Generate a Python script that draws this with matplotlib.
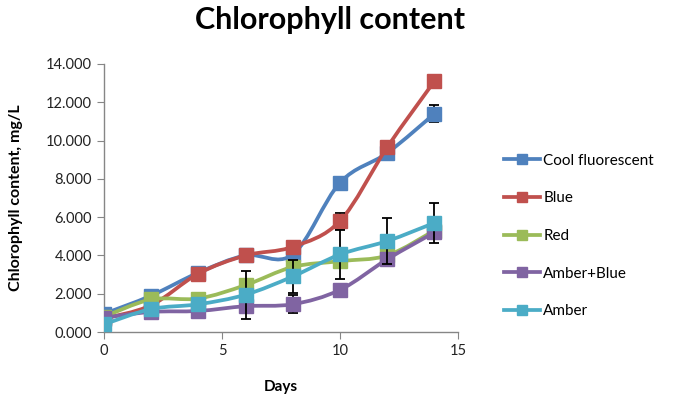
import matplotlib
matplotlib.use("Agg")
import matplotlib.pyplot as plt
from matplotlib.path import Path
from matplotlib.patches import PathPatch
from matplotlib.lines import Line2D

# data
days = [0, 2, 4, 6, 8, 10, 12, 14]
cool_fluorescent = [0.95, 1.9, 3.1, 4.0, 4.05, 7.8, 9.35, 11.4]
blue = [0.7, 1.4, 3.05, 4.0, 4.45, 5.8, 9.65, 13.1]
red = [0.8, 1.7, 1.75, 2.45, 3.4, 3.7, 4.0, 5.3]
amber_blue = [0.75, 1.05, 1.1, 1.35, 1.45, 2.2, 3.8, 5.2]
amber = [0.4, 1.2, 1.45, 1.95, 2.9, 4.05, 4.75, 5.7]

cool_err = [0, 0, 0, 0, 0, 0.3, 0.3, 0.45]
blue_err = [0, 0, 0, 0, 0, 0.4, 0, 0]
red_err = [0, 0, 0, 0, 0, 0, 0, 0]
amber_blue_err = [0, 0, 0.28, 0, 0.48, 0, 0, 0]
amber_err = [0, 0, 0, 1.25, 0.85, 1.3, 1.2, 1.05]

labels = ["Cool fluorescent", "Blue", "Red", "Amber+Blue", "Amber"]
series = [cool_fluorescent, blue, red, amber_blue, amber]
errors = [cool_err, blue_err, red_err, amber_blue_err, amber_err]
colors = ["#4F81BD", "#C0504D", "#9BBB59", "#8064A2", "#4BACC6"]

FONT = "Lato"


def smooth_path(xs, ys):
    # Excel style smoothed line: catmull-rom segments as cubic beziers
    n = len(xs)
    verts = [(xs[0], ys[0])]
    codes = [Path.MOVETO]
    for i in range(n - 1):
        x0, y0 = xs[max(i - 1, 0)], ys[max(i - 1, 0)]
        x1, y1 = xs[i], ys[i]
        x2, y2 = xs[i + 1], ys[i + 1]
        x3, y3 = xs[min(i + 2, n - 1)], ys[min(i + 2, n - 1)]
        c1 = (x1 + (x2 - x0) / 6.0, y1 + (y2 - y0) / 6.0)
        c2 = (x2 - (x3 - x1) / 6.0, y2 - (y3 - y1) / 6.0)
        verts += [c1, c2, (x2, y2)]
        codes += [Path.CURVE4] * 3
    return Path(verts, codes)


fig = plt.figure(figsize=(6.85, 4.04), dpi=100)
ax = fig.add_axes([0.1518, 0.1782, 0.5168, 0.6634])

handles = []
for i, (vals, err, col, lab) in enumerate(zip(series, errors, colors, labels)):
    z = 3 + i
    patch = PathPatch(smooth_path(days, vals), facecolor="none", edgecolor=col,
                      lw=2.7, zorder=z, capstyle="round", joinstyle="round")
    ax.add_patch(patch)
    ax.errorbar(days, vals, yerr=err, fmt="none", ecolor="black", elinewidth=1.3,
                capsize=3.5, capthick=1.3, zorder=z)
    ax.plot(days, vals, linestyle="none", marker="s", markersize=9.5,
            markerfacecolor=col, markeredgecolor=col, zorder=z + 0.5)
    handles.append(Line2D([], [], color=col, lw=2.7, marker="s", markersize=7,
                          markerfacecolor=col, markeredgecolor=col))

ax.set_xlim(0, 15)
ax.set_ylim(0, 14)
ax.set_xticks([0, 5, 10, 15])
ax.set_yticks(range(0, 15, 2))
ax.set_yticklabels(["%.3f" % v for v in range(0, 15, 2)])

for s in ["top", "right"]:
    ax.spines[s].set_visible(False)
for s in ["left", "bottom"]:
    ax.spines[s].set_color("#868686")
    ax.spines[s].set_linewidth(1.0)
ax.tick_params(axis="both", direction="out", length=5, color="#868686",
               labelsize=10.5, labelcolor="#222222")
for t in ax.get_xticklabels() + ax.get_yticklabels():
    t.set_fontfamily(FONT)

ax.set_xlabel("Days", fontfamily=FONT, fontweight="bold", fontsize=11, labelpad=16)
ax.set_ylabel("Chlorophyll content, mg/L", fontfamily=FONT, fontweight="bold",
              fontsize=11.5, labelpad=17)

fig.text(0.482, 0.95, "Chlorophyll content", ha="center", va="center",
         fontfamily=FONT, fontweight="bold", fontsize=22)

leg = fig.legend(handles, labels, loc="center left", bbox_to_anchor=(0.715, 0.416),
                 frameon=False, handlelength=2.4, handletextpad=0.2,
                 labelspacing=1.55, prop={"family": FONT, "size": 11})

fig.savefig("out.png", dpi=100)
